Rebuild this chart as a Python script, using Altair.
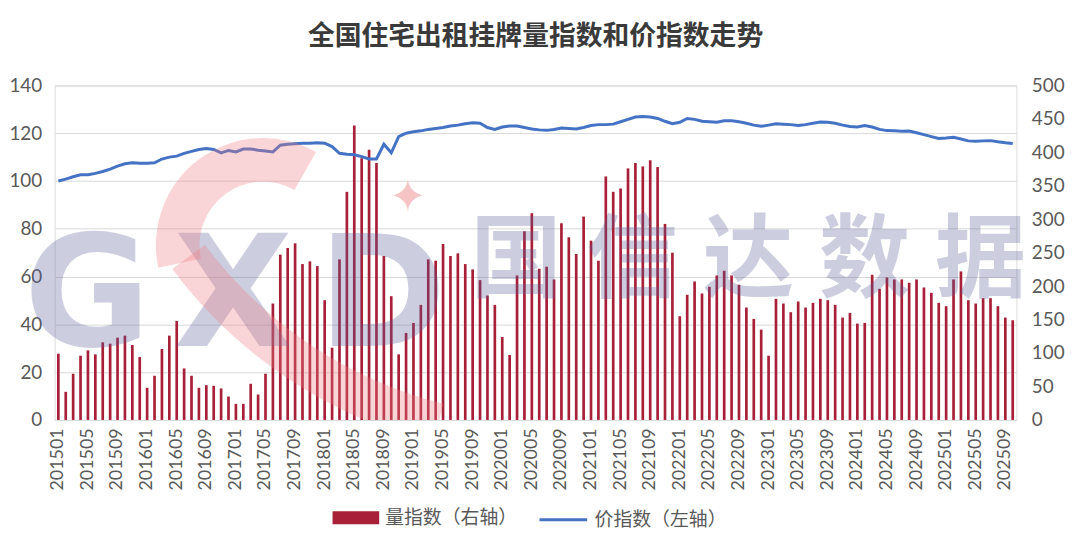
import altair as alt
import pandas as pd

# monthly categories 201501 .. 202510
months = [f"{y}{m:02d}" for y in range(2015, 2026) for m in range(1, 13)][:130]
tick_months = months[::4]

# 量指数 (right axis, 0-500)
volume_index = [
    99, 42, 69, 96, 104, 98, 116, 114, 123, 126,
    112, 94, 48, 66, 106, 126, 148, 77, 66, 48,
    52, 51, 47, 35, 24, 24, 54, 38, 69, 174,
    247, 257, 264, 233, 237, 230, 179, 108, 240, 341,
    440, 391, 404, 384, 245, 185, 98, 130, 145, 172,
    240, 238, 263, 245, 249, 233, 225, 209, 186, 172,
    124, 97, 216, 282, 309, 226, 229, 210, 294, 273,
    248, 304, 268, 238, 364, 341, 346, 376, 384, 379,
    388, 378, 293, 250, 155, 187, 207, 189, 199, 216,
    223, 216, 202, 168, 151, 135, 96, 181, 174, 161,
    177, 168, 175, 181, 179, 172, 153, 160, 144, 145,
    217, 196, 213, 210, 210, 205, 210, 198, 190, 175,
    170, 210, 222, 179, 174, 182, 182, 170, 153, 149,
]

# 价指数 (left axis, 0-140)
price_index = [
    100.0, 100.8, 101.8, 102.6, 102.6, 103.2, 104.0, 105.0, 106.2, 107.2,
    107.6, 107.4, 107.4, 107.6, 109.2, 110.0, 110.4, 111.6, 112.4, 113.2,
    113.6, 113.2, 111.8, 112.8, 112.2, 113.4, 113.4, 112.9, 112.6, 112.2,
    115.0, 115.4, 115.6, 115.8, 115.8, 116.0, 115.8, 114.4, 111.6, 111.2,
    111.0, 110.2, 109.2, 109.2, 115.4, 111.8, 118.6, 120.0, 120.6, 121.0,
    121.6, 122.0, 122.4, 123.0, 123.4, 124.0, 124.4, 124.2, 122.4, 121.6,
    122.6, 123.0, 123.0, 122.4, 121.8, 121.4, 121.2, 121.6, 122.2, 122.0,
    121.8, 122.4, 123.2, 123.6, 123.6, 123.8, 124.8, 125.8, 126.8, 127.0,
    126.8, 126.2, 125.0, 124.0, 124.6, 126.2, 125.8, 125.0, 124.8, 124.6,
    125.2, 125.2, 124.8, 124.2, 123.4, 122.9, 123.4, 124.0, 123.8, 123.6,
    123.2, 123.6, 124.2, 124.7, 124.6, 124.2, 123.4, 122.8, 122.6, 123.2,
    122.6, 121.6, 121.1, 121.0, 120.8, 120.9, 120.2, 119.4, 118.6, 117.8,
    118.0, 118.3, 117.6, 116.8, 116.6, 116.8, 116.9, 116.4, 116.0, 115.7,
]

vol_name = "量指数（右轴）"
price_name = "价指数（左轴）"
title_text = "全国住宅出租挂牌量指数和价指数走势"
watermark_latin = list("GXD")
watermark_cjk = list("国信达数据")

BAR_RED = "#A81F38"
LINE_BLUE = "#4472C4"
LABEL_GRAY = "#595959"
WM_BLUE = "#5A5F9A"
WM_PINK = "#EE7D82"
NUM_FONT = "Lato"
CJK_FONT = "Noto Sans CJK SC"

df = pd.DataFrame({
    "month": months,
    "volume": volume_index,
    "price": price_index,
    "vol_name": vol_name,
    "price_name": price_name,
})

x_enc = alt.X(
    "month:O",
    sort=months,
    title=None,
    axis=alt.Axis(
        values=tick_months, labelAngle=-90, labelPadding=8,
        domain=False, ticks=False, grid=False,
        labelFont=NUM_FONT, labelFontSize=18, labelColor=LABEL_GRAY,
    ),
)

bars = (
    alt.Chart(df)
    .mark_bar(size=2.7)
    .encode(
        x=x_enc,
        y=alt.Y(
            "volume:Q",
            scale=alt.Scale(domain=[0, 500]),
            axis=alt.Axis(
                orient="right", values=list(range(0, 501, 50)), title=None,
                grid=False, domain=False, ticks=False, labelPadding=15,
                labelFont=NUM_FONT, labelFontSize=19, labelColor=LABEL_GRAY,
            ),
        ),
        color=alt.Color(
            "vol_name:N",
            scale=alt.Scale(range=[BAR_RED]),
            legend=alt.Legend(
                orient="none", legendX=280, legendY=412, title=None,
                symbolType="M-1,-0.28H1V0.28H-1Z", symbolSize=2209,
                symbolStrokeWidth=0, symbolOpacity=1, padding=0, labelOffset=6,
                labelFont=CJK_FONT, labelFontSize=19, labelColor=LABEL_GRAY,
            ),
        ),
    )
)

line = (
    alt.Chart(df)
    .mark_line(strokeWidth=3)
    .encode(
        x=x_enc,
        y=alt.Y(
            "price:Q",
            scale=alt.Scale(domain=[0, 140]),
            axis=alt.Axis(
                orient="left", values=list(range(0, 141, 20)), title=None,
                grid=True, gridColor="#D9D9D9", gridWidth=1,
                domain=False, ticks=False, labelPadding=13,
                labelFont=NUM_FONT, labelFontSize=19, labelColor=LABEL_GRAY,
            ),
        ),
        stroke=alt.Stroke(
            "price_name:N",
            scale=alt.Scale(range=[LINE_BLUE]),
            legend=alt.Legend(
                orient="none", legendX=487, legendY=412, title=None,
                symbolType="stroke", symbolSize=2304, symbolStrokeWidth=3,
                padding=0, labelOffset=6,
                labelFont=CJK_FONT, labelFontSize=19, labelColor=LABEL_GRAY,
            ),
        ),
    )
)

# faint logo watermark sitting over the plot
wm_layers = []
for ch, cx in zip(watermark_latin, [33, 180, 330]):
    wm_layers.append(
        alt.Chart(pd.DataFrame({"t": [ch]}))
        .mark_text(font="DejaVu Sans", fontWeight="bold", fontSize=156,
                   color=WM_BLUE, opacity=0.3, align="center", baseline="alphabetic")
        .encode(text="t:N", x=alt.value(cx), y=alt.value(263))
    )
for i, ch in enumerate(watermark_cjk):
    wm_layers.append(
        alt.Chart(pd.DataFrame({"t": [ch]}))
        .mark_text(font=CJK_FONT, fontWeight="bold", fontSize=92,
                   color=WM_BLUE, opacity=0.3, align="center", baseline="middle")
        .encode(text="t:N", x=alt.value(465 + i * 117), y=alt.value(178))
    )
# red swoosh of the logo: upper curl and lower sweep
wm_layers.append(
    alt.Chart(pd.DataFrame({"k": [0]}))
    .mark_arc(theta=4.5, theta2=6.8, radius=64, radius2=108,
              color=WM_PINK, opacity=0.32, clip=True)
    .encode(x=alt.value(210), y=alt.value(161))
)
wm_layers.append(
    alt.Chart(pd.DataFrame({"k": [0]}))
    .mark_arc(theta=3.39, theta2=4.07, radius=433, radius2=474,
              color=WM_PINK, opacity=0.32, clip=True)
    .encode(x=alt.value(498), y=alt.value(-99))
)
wm_layers.append(
    alt.Chart(pd.DataFrame({"t": ["✦"]}))
    .mark_text(fontSize=46, color=WM_PINK, opacity=0.45, font="DejaVu Sans")
    .encode(text="t:N", x=alt.value(356), y=alt.value(114))
)

chart = (
    alt.layer(bars, line, *wm_layers)
    .resolve_scale(y="independent")
    .properties(
        width=969,
        height=337,
        autosize="none",
        padding={"left": 47, "top": 76, "right": 56, "bottom": 126},
        title=alt.TitleParams(
            text=title_text, font=CJK_FONT, fontSize=27, fontWeight="bold",
            color="#3A3A3A", anchor="middle", offset=26,
        ),
    )
    .configure_view(stroke=None)
    .configure(background="#FFFFFF")
)

chart.save("out.html", embed_options={"renderer": "svg", "actions": False})
